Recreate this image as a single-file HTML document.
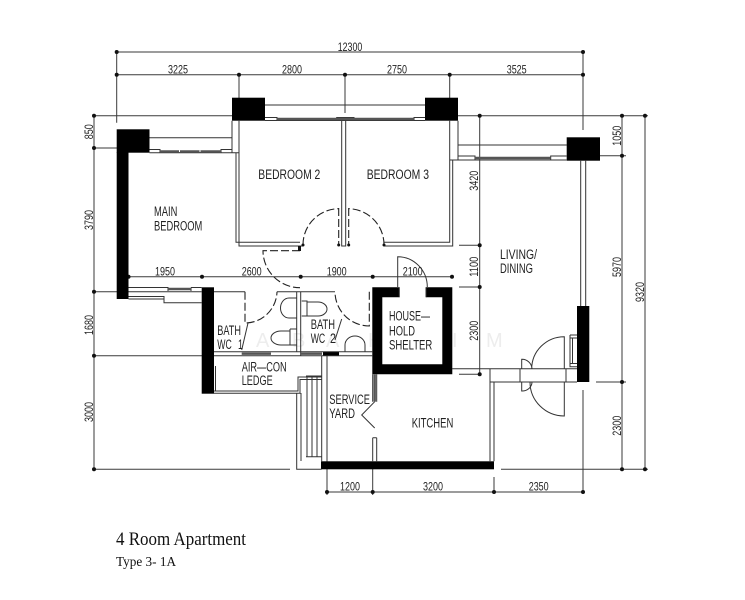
<!DOCTYPE html>
<html><head><meta charset="utf-8"><style>
html,body{margin:0;padding:0;background:#fff;width:745px;height:600px;overflow:hidden}
svg{display:block;filter:blur(.35px)}
text{font-family:"Liberation Sans",sans-serif;fill:#222}
.d{font-size:11.5px;text-anchor:middle}
.r{font-size:13.5px}
.t{font-family:"Liberation Serif",serif;fill:#111}
.w{fill:#ededed;font-size:20px}
</style></head><body>
<svg width="745" height="600" viewBox="0 0 745 600" xmlns="http://www.w3.org/2000/svg">
<rect width="745" height="600" fill="#fff"/>
<g><text class="w" x="256" y="347">A</text><text class="w" x="292" y="347">B</text><text class="w" x="326" y="347">A</text><text class="w" x="368" y="347">H</text><text class="w" x="452" y="347">I</text><text class="w" x="486" y="347">M</text></g>

<!-- dimension lines -->
<g stroke="#3a3a3a" stroke-width="1" fill="none">
<path d="M116.7 52H583M116.7 74.7H583M116.7 52V122.7M239 74.7V98M345 74.7V113M449.7 74.7V98M583 52V130"/>
<path d="M93 115.7H232M458 115.7H648M94 115.7V469.3M94 148H117M94 291.7H117M94 355.7H202M93 469.3H290"/>
<path d="M622 115.7V469.3M645 115.7V469.3M600 155.7H626M596 382H626M501 469.3H648"/>
<path d="M479.7 115.7V374.3M459 245.3H480M459 287H480M459 374.3H480"/>
<path d="M128.5 276.7H452"/>
<path d="M327 355V495M372.7 469V495M494 477V492M583 390V492M327 492H583"/>
</g>
<g fill="#111">
<circle cx="116.7" cy="52" r="2"/><circle cx="583" cy="52" r="2"/>
<circle cx="116.7" cy="74.7" r="2"/><circle cx="239" cy="74.7" r="2"/><circle cx="345" cy="74.7" r="2"/><circle cx="449.7" cy="74.7" r="2"/><circle cx="583" cy="74.7" r="2"/>
<circle cx="94" cy="115.7" r="2"/><circle cx="94" cy="148" r="2"/><circle cx="94" cy="291.7" r="2"/><circle cx="94" cy="355.7" r="2"/><circle cx="94" cy="469.3" r="2"/>
<circle cx="479.7" cy="115.7" r="2"/><circle cx="479.7" cy="245.3" r="2"/><circle cx="479.7" cy="287" r="2"/><circle cx="479.7" cy="374.3" r="2"/>
<circle cx="622" cy="115.7" r="2"/><circle cx="645" cy="115.7" r="2"/><circle cx="622" cy="155.7" r="2"/><circle cx="622" cy="382" r="2"/><circle cx="622" cy="469.3" r="2"/><circle cx="645" cy="469.3" r="2"/>
<circle cx="128.5" cy="276.7" r="2"/><circle cx="202" cy="276.7" r="2"/><circle cx="300.7" cy="276.7" r="2"/><circle cx="372.7" cy="276.7" r="2"/><circle cx="452" cy="276.7" r="2"/>
<circle cx="327" cy="492" r="2"/><circle cx="372.7" cy="492" r="2"/><circle cx="494" cy="492" r="2"/><circle cx="583" cy="492" r="2"/>
</g>

<!-- solid black -->
<g fill="#000">
<rect x="232" y="97.7" width="33" height="23"/>
<rect x="425" y="97.7" width="33" height="23"/>
<rect x="116.7" y="129.3" width="32.8" height="23.4"/>
<rect x="116.7" y="152" width="11.8" height="147"/>
<rect x="566.7" y="137.3" width="33.3" height="23.4"/>
<rect x="577" y="306" width="12.3" height="76"/>
<rect x="201.7" y="287.3" width="12.3" height="106.4"/>
<rect x="321" y="461.3" width="173" height="8"/>
<rect x="323" y="352" width="16" height="3.7"/>
<path fill-rule="evenodd" d="M372.3 287.3H399.3V297.3H426V287.3H452.3V374.3H372.3ZM382.3 297.3V364.3H442.3V297.3Z"/>
</g>

<!-- thin walls -->
<g stroke="#333" stroke-width="1" fill="none">
<path d="M265 105H425M149.5 137.7H232M458 145H567"/>
<path d="M265 117.5H277V120.5M265 120.5H336.7M336.7 117.5H354V120.5H336.7ZM354 120.5H425M414 120.5V117.5H425"/>
<path d="M149.5 149.5H160V152.7H149.5M221 152.7V149.5H232M149.5 152.7H239"/>
<path d="M458 156H475V160H458M550.7 160V156H566.7M458 160H566.7"/>
<path d="M232 120.7V152.7M239 120.7V246H303M236 152.7V242.3H300"/>
<path d="M341.7 120.7V246H345.7V120.7"/>
<path d="M449.7 120.7V160M458 120.7V160H449.7M449.7 160V242.3H384M452.7 160V246H384"/>
<path d="M580.7 160.7V306M585.7 160.7V306"/>
<path d="M128.5 287.5H168V291M191 287.5H201.7M191 287.5V291M128.5 291.7H201.7M128.5 296.5H164V302.7H201.7M128.5 299H164"/>
<path d="M214 291.7H245M277 291.7H335M296.7 291.7V351.7M300.7 291.7V355.7M214 351.7H372.3M214 355.7H372.3"/>
<path d="M248 323L241.7 350M341.7 319L335 340"/>
<path d="M321.7 355.7V461.3M327 355.7V461.3M214 391H298V377H321.7M214 393.3H300V379.5H321.7M215.5 366V391"/>
<path d="M296.7 393V469.3H321.7M301 393V461"/>
<path d="M307 376V456.7M312 376V456.7M317 376V456.7M306 456.7H321.7M306 376H321.7"/>
<path d="M397.7 287V256.7A29.6 30.3 0 0 1 427.3 287M399.3 287.3V297.3M426 287.3V297.3"/>
<path d="M452 368.7H577M490 382H577M490 368.7V461.3M494 382V461.3"/>
<path d="M372.7 374.3V401.7M376.7 374.3V401.7M374.7 401.7L361.7 415L374.7 428M372.7 437.7V461.3M376.7 437.7V461.3M372.7 437.7H376.7"/>
<path d="M564.3 369V336.7A32.6 32.3 0 0 0 531.7 369M564.3 382V416A34.3 34 0 0 1 530 382M521.7 369V359.3A10 10 0 0 1 532 369M521.7 382V391A10 9 0 0 0 532 382M520 369V382M566 369V382"/>
<path d="M570 335H577M570 338H577M570 335V366.7H577M570 363.5H577M572.5 338V363.5"/>
<path d="M296.7 298H289A8.5 10 0 0 0 289 318H296.7"/>
<path d="M301.7 301H307V316H301.7M307 302H318A9 7 0 0 1 318 316H307"/>
<path d="M290 329V345M296.7 329H290M296.7 345H290M290 331H281A10 7 0 0 0 281 345H290"/>
<path d="M345 351.7V345A10 9 0 0 1 365 345V351.7"/>
</g>
<g stroke="#555" stroke-width="2.4" fill="none">
<path d="M160 151.5H221M277 119H414M475 158H550.7M168 289H191"/>
<path d="M241.7 353.7H271M301 353.7H322"/>
<path d="M374.7 374.3V401.7"/>
</g>
<g stroke="#fff" stroke-width="1"><path d="M179.5 150V152M200 150V152"/></g>

<!-- dashed doors -->
<g stroke="#222" stroke-width="1.1" fill="none" stroke-dasharray="8 3">
<path d="M303 245A36 36 0 0 1 338.7 208.7"/>
<path d="M338.7 208V245"/>
<path d="M384 245A36 36 0 0 0 348.7 208.7"/>
<path d="M348.7 208V245"/>
<path d="M300 250.7H263A37 37 0 0 0 300 287.7"/>
<path d="M245 291.7V323A32 32 0 0 0 277 291.7"/>
<path d="M369.3 291.7V326A34.3 34.3 0 0 1 335 291.7"/>
</g>
<g fill="#111"><circle cx="303" cy="245" r="1.5"/><circle cx="338.7" cy="245" r="1.5"/><circle cx="348.7" cy="245" r="1.5"/><circle cx="384" cy="245" r="1.5"/><rect x="298" y="246" width="3" height="5"/></g>

<!-- dimension text -->
<text class="d" x="350" y="51" textLength="24.5" lengthAdjust="spacingAndGlyphs">12300</text>
<text class="d" x="178" y="73.5" textLength="20" lengthAdjust="spacingAndGlyphs">3225</text><text class="d" x="292" y="73.5" textLength="20" lengthAdjust="spacingAndGlyphs">2800</text><text class="d" x="397" y="73.5" textLength="20" lengthAdjust="spacingAndGlyphs">2750</text><text class="d" x="516.7" y="73.5" textLength="20" lengthAdjust="spacingAndGlyphs">3525</text>
<text class="d" x="165" y="275.5" textLength="20" lengthAdjust="spacingAndGlyphs">1950</text><text class="d" x="251.7" y="275.5" textLength="20" lengthAdjust="spacingAndGlyphs">2600</text><text class="d" x="336.7" y="275.5" textLength="20" lengthAdjust="spacingAndGlyphs">1900</text><text class="d" x="412.7" y="275.5" textLength="20" lengthAdjust="spacingAndGlyphs">2100</text>
<text class="d" x="350" y="490.7" textLength="20" lengthAdjust="spacingAndGlyphs">1200</text><text class="d" x="433" y="490.7" textLength="20" lengthAdjust="spacingAndGlyphs">3200</text><text class="d" x="538.7" y="490.7" textLength="20" lengthAdjust="spacingAndGlyphs">2350</text>
<g>
<text class="d" transform="translate(93 131.7) rotate(-90)" textLength="15" lengthAdjust="spacingAndGlyphs">850</text>
<text class="d" transform="translate(93 220) rotate(-90)" textLength="20" lengthAdjust="spacingAndGlyphs">3790</text>
<text class="d" transform="translate(93 325) rotate(-90)" textLength="20" lengthAdjust="spacingAndGlyphs">1680</text>
<text class="d" transform="translate(93 412) rotate(-90)" textLength="20" lengthAdjust="spacingAndGlyphs">3000</text>
<text class="d" transform="translate(478 180.7) rotate(-90)" textLength="20" lengthAdjust="spacingAndGlyphs">3420</text>
<text class="d" transform="translate(478 266.7) rotate(-90)" textLength="20" lengthAdjust="spacingAndGlyphs">1100</text>
<text class="d" transform="translate(478 330.7) rotate(-90)" textLength="20" lengthAdjust="spacingAndGlyphs">2300</text>
<text class="d" transform="translate(621 135.7) rotate(-90)" textLength="20" lengthAdjust="spacingAndGlyphs">1050</text>
<text class="d" transform="translate(621 267) rotate(-90)" textLength="20" lengthAdjust="spacingAndGlyphs">5970</text>
<text class="d" transform="translate(621 425.7) rotate(-90)" textLength="20" lengthAdjust="spacingAndGlyphs">2300</text>
<text class="d" transform="translate(644 292) rotate(-90)" textLength="20" lengthAdjust="spacingAndGlyphs">9320</text>
</g>

<!-- room labels -->
<g>
<text class="r" x="258.3" y="179" textLength="62" lengthAdjust="spacingAndGlyphs">BEDROOM 2</text>
<text class="r" x="366.7" y="179" textLength="62.3" lengthAdjust="spacingAndGlyphs">BEDROOM 3</text>
<text class="r" x="154" y="216" textLength="23.3" lengthAdjust="spacingAndGlyphs">MAIN</text>
<text class="r" x="154" y="230.7" textLength="48.3" lengthAdjust="spacingAndGlyphs">BEDROOM</text>
<text class="r" x="500" y="259" textLength="37" lengthAdjust="spacingAndGlyphs">LIVING/</text>
<text class="r" x="500" y="273" textLength="33" lengthAdjust="spacingAndGlyphs">DINING</text>
<text class="r" x="217.3" y="335" textLength="23.7" lengthAdjust="spacingAndGlyphs">BATH</text>
<text class="r" x="217.3" y="349" textLength="14.5" lengthAdjust="spacingAndGlyphs">WC</text><text class="r" x="238" y="349" textLength="5" lengthAdjust="spacingAndGlyphs">1</text>
<text class="r" x="310.7" y="329" textLength="24.3" lengthAdjust="spacingAndGlyphs">BATH</text>
<text class="r" x="310.7" y="343" textLength="14.5" lengthAdjust="spacingAndGlyphs">WC</text><text class="r" x="330" y="343" textLength="6" lengthAdjust="spacingAndGlyphs">2</text>
<text class="r" x="241.7" y="371.3" textLength="45" lengthAdjust="spacingAndGlyphs">AIR—CON</text>
<text class="r" x="241.7" y="385" textLength="31" lengthAdjust="spacingAndGlyphs">LEDGE</text>
<text class="r" x="329.3" y="404" textLength="40.7" lengthAdjust="spacingAndGlyphs">SERVICE</text>
<text class="r" x="329.3" y="418" textLength="25.7" lengthAdjust="spacingAndGlyphs">YARD</text>
<text class="r" x="411.7" y="427.3" textLength="41.6" lengthAdjust="spacingAndGlyphs">KITCHEN</text>
<text class="r" x="389" y="320.7" textLength="41" lengthAdjust="spacingAndGlyphs">HOUSE—</text>
<text class="r" x="389" y="335.3" textLength="26" lengthAdjust="spacingAndGlyphs">HOLD</text>
<text class="r" x="389" y="349.3" textLength="43.3" lengthAdjust="spacingAndGlyphs">SHELTER</text>
</g>

<!-- title -->
<text class="t" x="116" y="545" font-size="18.5" textLength="130" lengthAdjust="spacingAndGlyphs">4 Room Apartment</text>
<text class="t" x="116" y="566" font-size="13.5" textLength="60" lengthAdjust="spacingAndGlyphs">Type 3- 1A</text>
</svg>
</body></html>
